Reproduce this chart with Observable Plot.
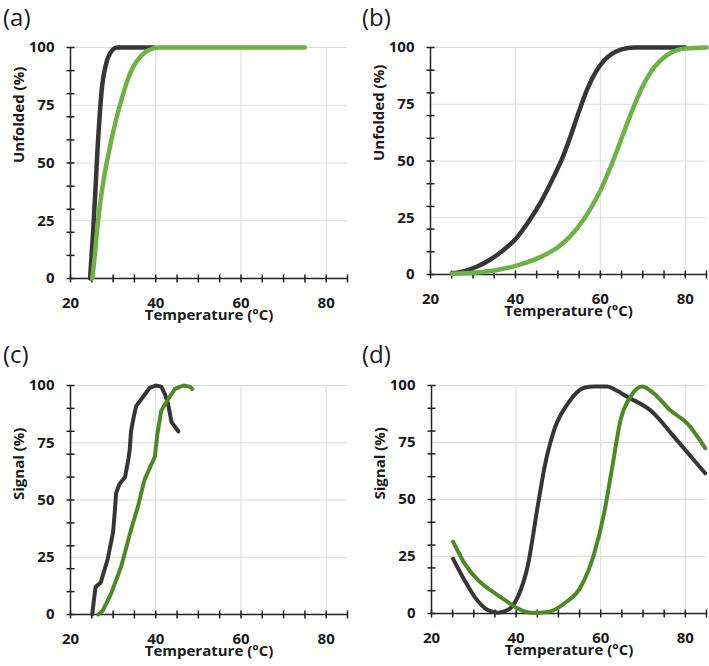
<!DOCTYPE html>
<html>
<head>
<meta charset="utf-8">
<script src="https://cdn.jsdelivr.net/npm/d3@7"></script>
<script src="https://cdn.jsdelivr.net/npm/@observablehq/plot@0.6"></script>
<style>
  html, body { margin: 0; padding: 0; background: #fff; }
  #wrap { position: relative; width: 709px; height: 666px; font-family: "Open Sans", sans-serif; }
  .panel { position: absolute; }
  .plab { position: absolute; font-size: 24px; color: #1a1a1a; font-family: "Open Sans", sans-serif; line-height: 1.3; }
</style>
</head>
<body>
<div id="wrap"></div>
<script>
// ---------- data ----------
const xTickLabels = [20, 40, 60, 80];
const yTickLabels = [0, 25, 50, 75, 100];
const xMinorTicks = [20, 25, 30, 35, 40, 45, 50, 55, 60, 65, 70, 75, 80, 85];
const yMinorTicks = [0, 10, 20, 30, 40, 50, 60, 70, 80, 90, 100];
const xGrid = [40, 60, 80];
const yGrid = [25, 50, 75, 100];

// (a)
const aBlackT = [24.6, 25.3, 25.9, 26.4, 26.9, 27.4, 28.0, 28.6, 29.3, 30.0, 31.0, 35.0, 39.5];
const aBlackV = [0, 20, 40, 58, 72, 83, 90, 94.5, 97.5, 99.2, 100, 100, 100];
const aGreenT = [25.1, 25.7, 26.3, 27.0, 27.8, 28.7, 29.6, 30.6, 31.6, 32.7, 33.8, 35.0, 36.3, 37.6, 39.0, 40.5, 42.0, 50, 60, 75];
const aGreenV = [0, 10, 22, 33, 43, 52, 60, 68, 75, 82, 88, 92.5, 95.8, 98, 99.3, 100, 100, 100, 100, 100];

// (b)
const bBlackT = [25, 28, 31, 34, 37, 40, 43, 46, 49, 51, 53, 55, 57, 59, 61, 63, 65, 68, 72, 80];
const bBlackV = [0.5, 1.5, 3.5, 6.5, 10.5, 15.5, 23, 32, 43, 51, 61, 72, 82, 89.5, 94.5, 97.5, 99.2, 100, 100, 100];
const bGreenT = [25, 30, 35, 40, 45, 50, 53, 56, 58, 60, 62, 64, 66, 68, 70, 72, 74, 76, 78, 80, 85];
const bGreenV = [0.3, 0.8, 1.8, 3.8, 7, 12, 17, 24, 30, 37, 45.5, 55, 65, 74.5, 83, 89.5, 94, 97, 98.8, 99.6, 100];

// (c)
const cBlackT = [25.1, 25.6, 25.9, 27.1, 28.7, 30.0, 30.4, 30.7, 31.5, 32.8, 33.6, 33.9, 34.2, 34.8, 35.4, 37.0, 38.6, 40.0, 41.3, 42.2, 42.9, 43.7, 44.5, 45.3];
const cBlackV = [0, 8, 12, 14, 24, 36, 45, 53, 57, 60, 68, 72, 80, 86, 91, 95, 99, 100, 99.5, 96, 92, 84, 82, 80];
const cGreenT = [26.5, 27.5, 29.5, 31.9, 34.2, 35.8, 37.4, 39.8, 40.4, 41.3, 42.9, 44.5, 46.5, 48.0, 48.6];
const cGreenV = [0, 1.5, 9, 21, 37, 47, 59, 69, 79, 89, 94, 98.5, 100, 99.5, 98.5];

// (d)
const dBlackT = [25.1, 27.8, 30.2, 33.3, 35.7, 38.0, 40.4, 42.7, 45.1, 46.7, 49.0, 52.2, 56.1, 58.5, 61.6, 63.5, 66.3, 71.8, 77.3, 82.0, 84.7];
const dBlackV = [24, 14.6, 7.3, 1.5, 0.3, 1.5, 7.3, 20.5, 47, 64, 80.5, 92, 99, 99.6, 99.6, 98, 95, 89, 77.6, 67.3, 61.5];
const dGreenT = [25.1, 27.8, 31.0, 34.1, 37.3, 40.4, 43.5, 47.5, 51.4, 55.3, 58.4, 60.8, 62.7, 64.7, 67.0, 69.8, 72.5, 76.5, 80.4, 84.7];
const dGreenV = [31.5, 22, 14.6, 10, 6, 2.2, 0.3, 0.7, 4.4, 11.7, 26, 44, 64, 85, 95, 99.6, 96.6, 89, 83.5, 72.5];

// ---------- drawing ----------
const BLACK = "#363636";
const LIGHT_GREEN = "#6bb342";
const DARK_GREEN = "#4c8a27";
const AXIS = "#222222";
const GRIDC = "#dcdcdc";
const TXT = "#1a1a1a";

function zip(T, V) { return T.map((t, i) => ({t, v: V[i]})); }

function panel({left, top, width, height, margins, yLabel, series, curve, sw}) {
  const [mt, mr, mb, ml] = margins;
  const pxPerX = (width - ml - mr) / 65;
  const pxPerY = (height - mt - mb) / 100;
  const tx = 4 / pxPerX, ty = 4 / pxPerY; // half tick length in data units
  const xt = xMinorTicks.map(x => ({x1: x, x2: x, y1: -ty, y2: ty}));
  const yt = yMinorTicks.map(y => ({x1: 20 - tx, x2: 20 + tx, y1: y, y2: y}));
  const marks = [
    Plot.ruleX(xGrid, {y1: 0, y2: 100, stroke: GRIDC, strokeWidth: 1}),
    Plot.ruleY(yGrid, {x1: 20, x2: 85, stroke: GRIDC, strokeWidth: 1}),
    Plot.ruleY([0], {x1: 20, x2: 85, stroke: AXIS, strokeWidth: 1.5}),
    Plot.ruleX([20], {y1: 0, y2: 100, stroke: AXIS, strokeWidth: 1.5}),
    Plot.link(xt, {x1: "x1", x2: "x2", y1: "y1", y2: "y2", stroke: AXIS, strokeWidth: 1.5}),
    Plot.link(yt, {x1: "x1", x2: "x2", y1: "y1", y2: "y2", stroke: AXIS, strokeWidth: 1.5}),
    Plot.axisX(xTickLabels, {tickSize: 0, tickPadding: 19, fontSize: 15, fontWeight: "bold", fill: TXT, label: null}),
    Plot.axisY(yTickLabels, {tickSize: 0, tickPadding: 16, fontSize: 15, fontWeight: "bold", fill: TXT, label: null}),
    Plot.text(["Temperature (°C)"], {frameAnchor: "bottom", dy: 41, fontSize: 15, fontWeight: "bold", fill: TXT}),
    Plot.text([yLabel], {frameAnchor: "left", dx: -51, rotate: -90, fontSize: 15, fontWeight: "bold", fill: TXT})
  ];
  for (const s of series) {
    marks.push(Plot.line(zip(s.T, s.V), {x: "t", y: "v", stroke: s.color, strokeWidth: sw, curve: curve, strokeLinecap: "round", strokeLinejoin: "round"}));
  }
  const svg = Plot.plot({
    width, height,
    marginTop: mt, marginRight: mr, marginBottom: mb, marginLeft: ml,
    x: {domain: [20, 85]},
    y: {domain: [0, 100]},
    style: {fontFamily: "'Open Sans', sans-serif", background: "transparent", overflow: "visible"},
    marks
  });
  const div = document.createElement("div");
  div.className = "panel";
  div.style.left = left + "px";
  div.style.top = top + "px";
  div.appendChild(svg);
  document.getElementById("wrap").appendChild(div);
}

function panelLabel(text, left, top) {
  const d = document.createElement("div");
  d.className = "plab";
  d.style.left = left + "px";
  d.style.top = top + "px";
  d.textContent = text;
  document.getElementById("wrap").appendChild(d);
}

panel({left: 0, top: 0, width: 354, height: 333, margins: [47, 7, 55, 70], yLabel: "Unfolded (%)",
  curve: "monotone-x", sw: 4.5,
  series: [{T: aBlackT, V: aBlackV, color: BLACK}, {T: aGreenT, V: aGreenV, color: LIGHT_GREEN}]});
panel({left: 354, top: 0, width: 355, height: 333, margins: [47, 3, 59, 76], yLabel: "Unfolded (%)",
  curve: "monotone-x", sw: 4.5,
  series: [{T: bBlackT, V: bBlackV, color: BLACK}, {T: bGreenT, V: bGreenV, color: LIGHT_GREEN}]});
panel({left: 0, top: 333, width: 354, height: 333, margins: [52, 7, 52, 70], yLabel: "Signal (%)",
  curve: "linear", sw: 4,
  series: [{T: cBlackT, V: cBlackV, color: BLACK}, {T: cGreenT, V: cGreenV, color: DARK_GREEN}]});
panel({left: 354, top: 333, width: 355, height: 333, margins: [52, 3, 53, 77], yLabel: "Signal (%)",
  curve: "monotone-x", sw: 4,
  series: [{T: dBlackT, V: dBlackV, color: BLACK}, {T: dGreenT, V: dGreenV, color: DARK_GREEN}]});

panelLabel("(a)", 3, 1);
panelLabel("(b)", 362, 1);
panelLabel("(c)", 3, 338);
panelLabel("(d)", 362, 338);
</script>
</body>
</html>
